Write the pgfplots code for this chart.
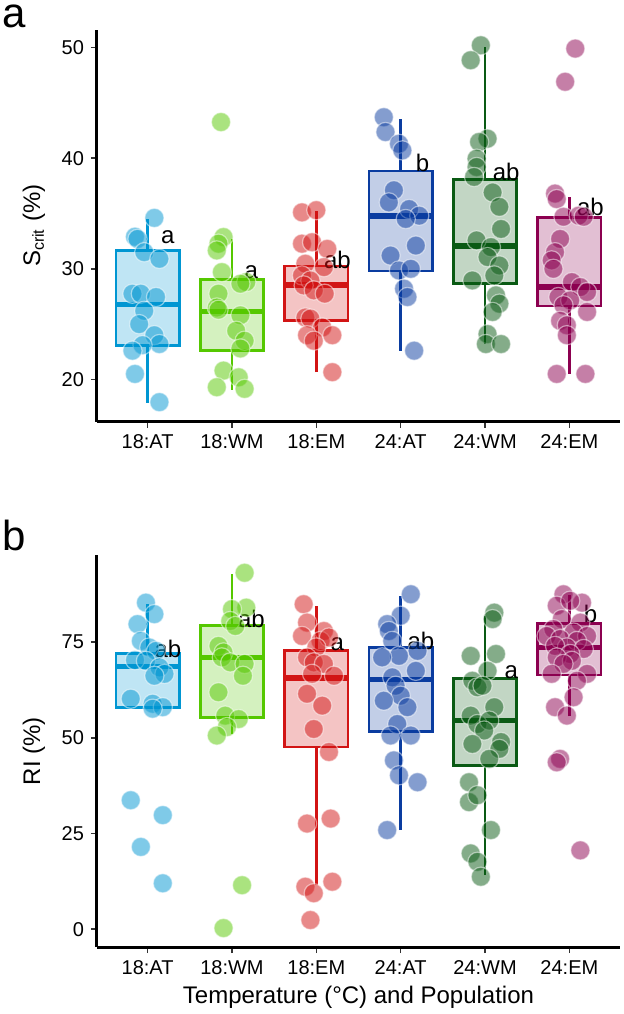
\documentclass[border=0pt]{standalone}
\usepackage{fontspec}
\setmainfont{Liberation Sans}
\usepackage{pgfplots}
\pgfplotsset{compat=1.18}

\definecolor{cA}{RGB}{0,150,210}
\definecolor{cB}{RGB}{85,200,0}
\definecolor{cC}{RGB}{210,20,20}
\definecolor{cD}{RGB}{10,60,160}
\definecolor{cE}{RGB}{10,90,20}
\definecolor{cF}{RGB}{140,0,80}

% colour, left, right, centre, lower whisker, lower quartile, median, upper quartile, upper whisker
\newcommand{\bx}[9]{%
  \addplot[draw=#1, line width=1.2pt] coordinates {(#4,#5) (#4,#6)};
  \addplot[draw=#1, line width=1.2pt] coordinates {(#4,#8) (#4,#9)};
  \addplot[draw=#1, fill=#1!25, line width=1.4pt] coordinates {(#2,#6) (#3,#6) (#3,#8) (#2,#8)} -- cycle;
  \addplot[draw=#1, line width=2.7pt] coordinates {(#2,#7) (#3,#7)};
}
\newcommand{\pts}[2]{\addplot[only marks, mark=*, mark size=4.8pt,
  mark options={draw=white, fill=#1, line width=0.6pt, opacity=0.5}] coordinates {#2};}

\tikzset{ann/.style={font=\fontsize{12}{14}\selectfont, inner sep=0pt}}

\pgfplotsset{
  panel/.style={
    scale only axis, width=261.5pt, xmin=0.4, xmax=6.6,
    axis x line*=bottom, axis y line*=left,
    axis line style={line width=1.5pt, black, -},
    xtick={1,2,3,4,5,6},
    xticklabels={18:AT,18:WM,18:EM,24:AT,24:WM,24:EM},
    tick align=outside, major tick length=3pt,
    tick style={line width=0.8pt, black!80},
    ticklabel style={font=\fontsize{10}{12}\selectfont},
    /pgf/number format/assume math mode=true,
    clip=false,
    every axis y label/.style={at={(axis description cs:0,0.5)}, xshift=-31.5pt, rotate=90, anchor=center, font=\fontsize{12}{14}\selectfont},
    every axis x label/.style={at={(axis description cs:0.5,0)}, yshift=-25pt, anchor=center, font=\fontsize{12}{14}\selectfont},
  },
}

\begin{document}
\begin{tikzpicture}
\useasboundingbox (0,0) rectangle (312pt,-507pt);

\node[anchor=base west, font=\fontsize{21}{24}\selectfont, inner sep=0pt] at (1pt,-13.7pt) {a};
\node[anchor=base west, font=\fontsize{21}{24}\selectfont, inner sep=0pt] at (1pt,-275pt) {b};

% ---------------- panel a ----------------
\begin{axis}[panel, at={(48.5pt,-210.75pt)}, anchor=south west, height=195.75pt,
  ymin=16.2, ymax=51.58, ytick={20,30,40,50},
  ylabel={S\textsubscript{crit} (\%)}]
\bx{cA}{0.625}{1.375}{1}{17.9}{23.07}{26.8}{31.66}{34.5}
\bx{cB}{1.625}{2.375}{2}{19.07}{22.6}{26.15}{29.0}{32.7}
\bx{cC}{2.625}{3.375}{3}{20.66}{25.3}{28.55}{30.25}{35.2}
\bx{cD}{3.625}{4.375}{4}{22.6}{29.8}{34.77}{38.83}{43.5}
\bx{cE}{4.625}{5.375}{5}{23.2}{28.65}{32.05}{38.05}{50.05}
\bx{cF}{5.625}{6.375}{6}{20.5}{26.63}{28.35}{34.67}{36.5}

\pts{cA}{(1.08,34.6) (0.85,32.9) (0.88,32.7) (0.96,31.5) (1.14,30.9) (0.82,27.75) (0.92,27.75) (1.10,27.45) (0.96,26.2) (0.90,25.0) (1.08,24.0) (1.14,23.2) (0.94,23.1) (0.82,22.6) (0.85,20.5) (1.14,17.95)}
\pts{cB}{(1.87,43.26) (1.90,32.87) (1.84,32.27) (1.82,31.66) (1.88,29.7) (2.17,28.8) (2.10,28.65) (1.84,27.75) (1.82,26.5) (1.84,26.3) (2.10,25.8) (2.05,24.4) (2.15,23.5) (2.10,22.8) (1.90,20.8) (2.08,20.2) (1.82,19.3) (2.15,19.15)}
\pts{cC}{(2.83,35.1) (3.00,35.3) (2.83,32.27) (2.95,32.4) (3.13,31.8) (2.87,30.46) (3.09,30.15) (2.83,29.4) (2.93,28.95) (2.85,28.5) (2.97,28.05) (3.10,27.75) (2.87,25.6) (2.93,25.5) (3.07,24.7) (2.89,24.0) (2.97,23.5) (3.19,24.0) (3.19,20.66)}
\pts{cD}{(3.80,43.7) (3.82,42.36) (3.98,41.3) (4.02,40.7) (3.92,37.1) (3.86,36.0) (4.10,35.4) (4.22,34.8) (4.06,34.5) (4.18,32.1) (3.88,31.2) (3.98,29.85) (4.12,30.0) (4.04,28.2) (4.08,27.45) (4.16,22.6)}
\pts{cE}{(4.95,50.2) (4.83,48.85) (5.03,41.76) (4.93,41.46) (4.90,39.95) (4.90,39.2) (4.87,38.3) (5.09,36.9) (5.17,35.6) (5.19,33.6) (4.90,32.57) (5.07,31.96) (5.03,31.06) (5.17,30.3) (5.11,29.4) (4.85,28.95) (5.13,27.6) (5.17,26.85) (5.09,26.1) (5.03,24.1) (5.01,23.2) (5.19,23.2)}
\pts{cF}{(6.07,49.9) (5.95,46.9) (5.83,36.8) (5.85,36.3) (5.93,34.7) (6.11,34.8) (6.17,34.7) (5.89,32.7) (5.83,31.5) (5.79,30.76) (5.81,30.0) (6.03,28.8) (6.13,28.35) (6.21,27.9) (5.87,27.45) (6.01,27.15) (5.93,26.7) (6.21,26.1) (5.89,25.3) (5.97,24.9) (5.97,24.0) (5.85,20.5) (6.19,20.5)}

\node[ann] at (axis cs:1.24,32.9) {a};
\node[ann] at (axis cs:2.23,29.7) {a};
\node[ann] at (axis cs:3.25,30.76) {ab};
\node[ann] at (axis cs:4.26,39.6) {b};
\node[ann] at (axis cs:5.25,38.75) {ab};
\node[ann] at (axis cs:6.25,35.6) {ab};
\end{axis}

% ---------------- panel b ----------------
\begin{axis}[panel, at={(48.5pt,-473.5pt)}, anchor=south west, height=196pt,
  ymin=-4.65, ymax=97.75, ytick={0,25,50,75},
  ylabel={RI (\%)}, xlabel={Temperature (°C) and Population}]
\bx{cA}{0.625}{1.375}{1}{57.6}{58.0}{68.6}{72.0}{85.0}
\bx{cB}{1.625}{2.375}{2}{51.0}{55.2}{71.0}{79.25}{92.9}
\bx{cC}{2.625}{3.375}{3}{11.5}{47.6}{65.6}{72.9}{84.5}
\bx{cD}{3.625}{4.375}{4}{25.9}{51.7}{65.2}{73.6}{87.1}
\bx{cE}{4.625}{5.375}{5}{14.1}{42.8}{54.5}{65.5}{81.9}
\bx{cF}{5.625}{6.375}{6}{55.6}{66.4}{73.6}{79.9}{87.3}

\pts{cA}{(0.98,85.3) (1.08,82.3) (0.88,79.7) (0.92,75.3) (1.02,73.6) (1.10,72.7) (0.85,70.3) (0.98,70.1) (1.14,68.4) (1.20,66.7) (1.08,66.2) (0.80,60.2) (1.06,58.9) (1.18,58.0) (1.06,57.6) (0.80,33.7) (1.18,29.8) (0.92,21.5) (1.18,12.0)}
\pts{cB}{(2.15,93.1) (2.17,84.0) (2.00,83.6) (1.98,80.5) (2.04,79.2) (1.84,74.0) (1.90,72.3) (1.88,71.0) (1.98,69.7) (2.15,69.3) (2.13,66.2) (1.84,61.9) (1.92,55.8) (2.08,54.9) (1.94,52.8) (1.82,50.6) (2.12,11.5) (1.90,0.3)}
\pts{cC}{(2.85,84.9) (2.89,80.1) (3.09,77.9) (2.83,76.6) (3.05,75.3) (3.15,76.2) (3.00,73.6) (2.89,71.0) (2.97,69.7) (3.09,69.3) (2.95,66.7) (3.21,66.2) (2.89,61.5) (3.07,58.4) (2.97,52.3) (3.15,46.3) (2.89,27.6) (3.17,28.9) (3.19,12.4) (2.87,11.1) (2.97,9.4) (2.93,2.4)}
\pts{cD}{(4.12,87.5) (4.00,81.9) (3.84,79.7) (3.86,77.9) (3.90,75.3) (4.20,72.7) (3.98,71.4) (3.78,71.0) (4.18,67.5) (3.90,65.8) (3.94,63.6) (4.00,61.0) (3.80,59.7) (4.08,58.0) (3.96,53.6) (3.88,50.6) (4.12,50.6) (3.92,44.1) (3.98,40.2) (4.20,38.4) (3.84,25.9)}
\pts{cE}{(5.11,82.7) (5.09,81.0) (4.83,71.4) (5.13,71.9) (5.03,67.5) (4.85,64.9) (4.91,63.2) (4.97,63.6) (5.11,58.0) (4.83,55.8) (4.91,53.6) (5.05,54.5) (4.99,51.9) (4.85,48.4) (5.19,48.9) (5.17,47.1) (5.05,44.5) (4.81,38.4) (4.81,33.2) (4.91,35.0) (5.07,25.9) (4.83,19.8) (4.91,17.6) (4.95,13.7)}
\pts{cF}{(5.93,87.5) (6.15,85.3) (5.85,84.5) (6.01,85.8) (5.91,81.0) (6.13,80.1) (5.81,78.4) (6.05,77.5) (6.21,76.6) (5.73,76.6) (5.89,75.8) (6.09,75.3) (5.97,73.6) (5.83,74.0) (6.17,73.2) (6.01,71.9) (5.85,71.0) (6.03,70.1) (5.93,69.3) (5.79,66.7) (6.21,66.7) (6.09,64.9) (6.05,60.6) (5.83,58.0) (5.97,55.8) (5.89,44.5) (5.85,43.6) (6.13,20.6)}

\node[ann] at (axis cs:1.24,73.2) {ab};
\node[ann] at (axis cs:2.23,81.0) {ab};
\node[ann] at (axis cs:3.25,74.5) {a};
\node[ann] at (axis cs:4.24,75.3) {ab};
\node[ann] at (axis cs:5.31,67.1) {a};
\node[ann] at (axis cs:6.25,82.3) {b};
\end{axis}
\end{tikzpicture}
\end{document}
